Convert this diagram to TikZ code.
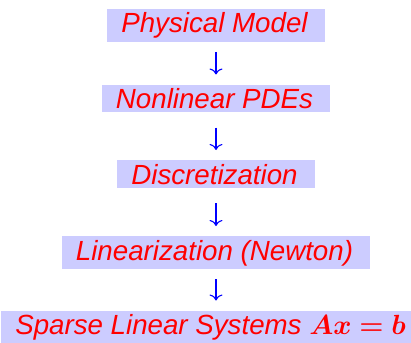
\RequirePackage{fix-cm}
\documentclass[tikz,border=0pt]{standalone}
\usepackage{fontspec}
\setmainfont{Liberation Sans}
\usepackage{amsmath, amssymb, bm}
\usetikzlibrary{arrows.meta, positioning}

\begin{document}
\begin{tikzpicture}[
                stage/.style={fill=blue!20, text=red, inner xsep=14pt, inner ysep=3.5pt,
                              font=\fontsize{27.7}{33}\selectfont\itshape,
                              execute at end node={\hspace{3pt}}},
                flow/.style={-{Computer Modern Rightarrow[width=13pt,length=6pt]}, blue,
                             line width=1.1pt, shorten <=19pt, shorten >=34pt}]

                % page frame
                \useasboundingbox (0,0) rectangle (411pt,-342pt);

                % Solution pipeline - top to bottom
                \node[stage, anchor=base] (phys) at (216pt,-33pt) {Physical Model};
                \node[stage, below=75.5pt of phys.base, anchor=base] (pde) {Nonlinear PDEs};
                \node[stage, below=75.5pt of pde.base, anchor=base] (disc) {Discretization};
                \node[stage, below=76pt of disc.base, anchor=base] (lin) {Linearization (Newton)};
                \node[stage, below=74.5pt of lin.base, anchor=base, xshift=-4pt] (sls)
                    {Sparse Linear Systems $\bm{Ax=b}$};

                % Steps between stages
                \draw[flow] (phys.base) -- (pde.base);
                \draw[flow] (pde.base) -- (disc.base);
                \draw[flow] (disc.base) -- (lin.base);
                \draw[flow] (lin.base) -- (lin.base |- sls.base);
\end{tikzpicture}
\end{document}
